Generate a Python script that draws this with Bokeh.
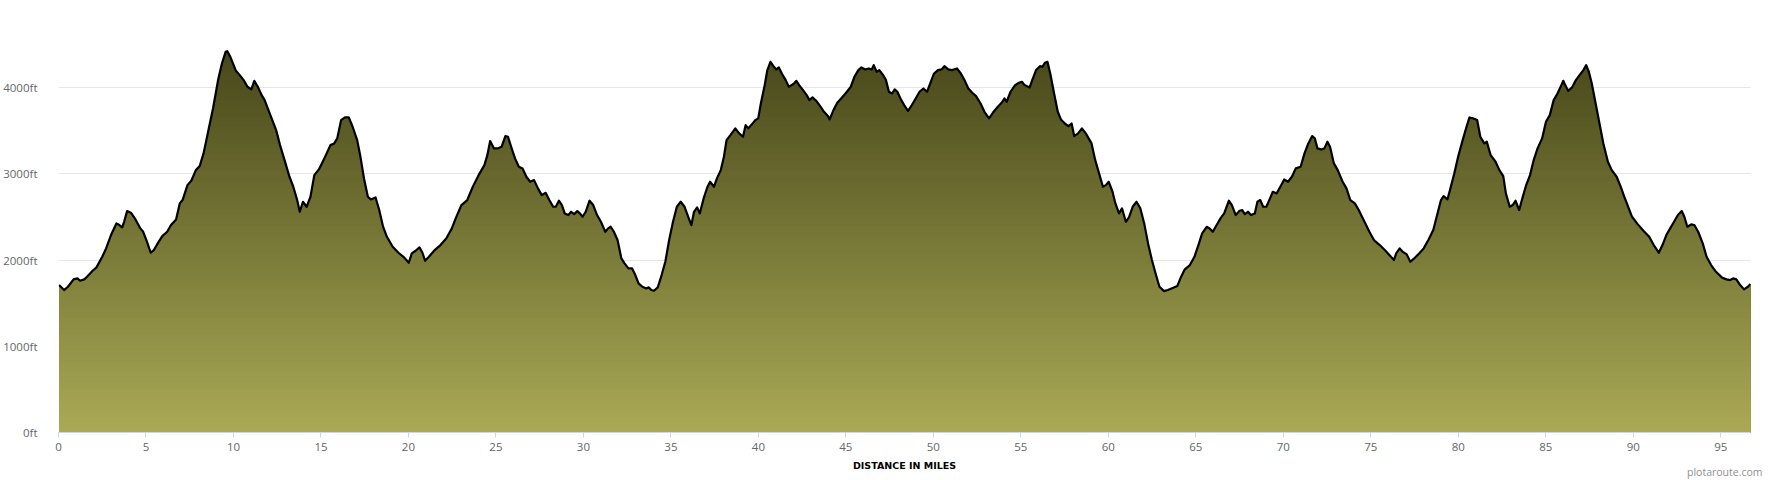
import numpy as np
from bokeh.plotting import figure
from bokeh.models import FixedTicker, PrintfTickFormatter, Label, Range1d
from bokeh.embed import file_html
from bokeh.resources import INLINE

# Distance (miles) and elevation (ft) read from the profile
miles = [0.03, 0.32, 0.54, 0.86, 1.08, 1.23, 1.47, 1.63, 1.95, 2.17, 2.50, 2.72, 3.00, 3.31, 3.48, 3.64,
         3.75, 3.92, 4.14, 4.40, 4.68, 4.84, 5.06, 5.27, 5.45, 5.67, 5.93, 6.21, 6.43, 6.72, 6.93, 7.09,
         7.37, 7.59, 7.85, 8.07, 8.29, 8.55, 8.83, 9.12, 9.34, 9.55, 9.64, 9.82, 9.97, 10.14, 10.36, 10.58,
         10.80, 11.02, 11.19, 11.39, 11.61, 11.78, 12.00, 12.22, 12.44, 12.66, 12.92, 13.20, 13.42, 13.64,
         13.79, 13.97, 14.18, 14.40, 14.62, 14.88, 15.10, 15.28, 15.54, 15.76, 15.93, 16.15, 16.37, 16.59,
         16.81, 17.07, 17.24, 17.46, 17.68, 17.85, 18.12, 18.33, 18.55, 18.77, 19.10, 19.43, 19.75, 20.02,
         20.19, 20.41, 20.63, 20.80, 20.95, 21.17, 21.50, 21.83, 22.16, 22.48, 22.70, 23.03, 23.36, 23.68,
         24.01, 24.34, 24.51, 24.67, 24.89, 25.10, 25.32, 25.54, 25.69, 25.87, 26.09, 26.31, 26.52, 26.74,
         26.96, 27.18, 27.40, 27.62, 27.84, 28.05, 28.27, 28.42, 28.60, 28.77, 28.93, 29.14, 29.30, 29.47,
         29.65, 29.80, 29.95, 30.13, 30.35, 30.56, 30.78, 31.00, 31.25, 31.41, 31.56, 31.74, 31.95, 32.17,
         32.35, 32.57, 32.78, 32.94, 33.15, 33.37, 33.59, 33.74, 33.88, 34.03, 34.25, 34.47, 34.68, 34.90,
         35.12, 35.34, 35.56, 35.78, 35.99, 36.17, 36.32, 36.50, 36.65, 36.87, 37.09, 37.24, 37.46, 37.63,
         37.85, 38.03, 38.18, 38.40, 38.68, 38.90, 39.12, 39.27, 39.42, 39.64, 39.82, 39.99, 40.14, 40.36,
         40.51, 40.69, 40.86, 41.02, 41.17, 41.34, 41.56, 41.74, 41.89, 42.04, 42.17, 42.33, 42.55, 42.76,
         42.92, 43.09, 43.31, 43.53, 43.75, 43.97, 44.07, 44.29, 44.51, 44.73, 45.06, 45.28, 45.49, 45.71,
         45.89, 46.11, 46.32, 46.48, 46.59, 46.76, 46.91, 47.13, 47.29, 47.46, 47.64, 47.79, 47.94, 48.12,
         48.33, 48.55, 48.77, 48.99, 49.21, 49.43, 49.64, 49.82, 50.04, 50.26, 50.47, 50.63, 50.85, 51.06,
         51.35, 51.57, 51.78, 52.00, 52.22, 52.44, 52.70, 52.92, 53.18, 53.40, 53.68, 53.90, 54.06, 54.19,
         54.41, 54.67, 54.89, 55.06, 55.21, 55.50, 55.65, 55.87, 56.09, 56.24, 56.37, 56.52, 56.68, 56.90,
         57.11, 57.29, 57.51, 57.72, 57.90, 58.05, 58.27, 58.49, 58.71, 59.04, 59.25, 59.47, 59.69, 59.86,
         60.02, 60.24, 60.39, 60.61, 60.78, 61.00, 61.18, 61.39, 61.61, 61.83, 62.05, 62.27, 62.49, 62.70,
         62.92, 63.18, 63.40, 63.61, 63.94, 64.16, 64.37, 64.66, 64.92, 65.18, 65.36, 65.62, 65.79, 65.97,
         66.19, 66.41, 66.62, 66.89, 67.06, 67.28, 67.50, 67.65, 67.80, 67.98, 68.15, 68.37, 68.52, 68.68,
         68.85, 69.03, 69.24, 69.40, 69.62, 69.83, 70.05, 70.27, 70.49, 70.71, 70.99, 71.21, 71.43, 71.65,
         71.80, 71.95, 72.17, 72.35, 72.52, 72.67, 72.89, 73.11, 73.39, 73.61, 73.83, 74.09, 74.31, 74.64,
         74.92, 75.18, 75.51, 75.80, 76.06, 76.32, 76.45, 76.65, 76.82, 77.04, 77.26, 77.48, 77.76, 78.02,
         78.29, 78.57, 78.79, 79.01, 79.16, 79.38, 79.55, 79.77, 79.99, 80.25, 80.47, 80.64, 80.86, 81.08,
         81.26, 81.48, 81.63, 81.85, 82.13, 82.35, 82.57, 82.72, 82.94, 83.11, 83.27, 83.48, 83.66, 83.88,
         84.10, 84.31, 84.53, 84.79, 85.01, 85.23, 85.45, 85.67, 85.89, 86.00, 86.11, 86.28, 86.50, 86.72,
         86.93, 87.15, 87.31, 87.46, 87.63, 87.85, 88.07, 88.29, 88.55, 88.77, 89.05, 89.27, 89.49, 89.71,
         89.93, 90.25, 90.58, 90.91, 91.17, 91.46, 91.67, 91.89, 92.11, 92.33, 92.55, 92.77, 92.92, 93.09,
         93.31, 93.49, 93.71, 93.97, 94.19, 94.45, 94.73, 95.06, 95.32, 95.54, 95.71, 95.89, 96.11, 96.33,
         96.55, 96.70]

elev_ft = [1710, 1652, 1690, 1776, 1787, 1760, 1776, 1807, 1876, 1915, 2038, 2135, 2290, 2425, 2406, 2379,
           2444, 2568, 2549, 2471, 2367, 2328, 2212, 2085, 2116, 2193, 2278, 2328, 2406, 2471, 2657, 2696,
           2869, 2920, 3043, 3090, 3237, 3488, 3758, 4087, 4280, 4415, 4423, 4357, 4280, 4195, 4145, 4087,
           4010, 3979, 4079, 4010, 3913, 3855, 3739, 3623, 3507, 3333, 3159, 2966, 2850, 2696,
           2560, 2676, 2618, 2734, 2985, 3051, 3140, 3217, 3333, 3353, 3411, 3623, 3654, 3654,
           3546, 3391, 3217, 2947, 2734, 2703, 2726, 2580, 2387, 2270, 2154, 2085, 2031, 1969,
           2077, 2108, 2147, 2085, 1992, 2038, 2116, 2174, 2251, 2367, 2483, 2638, 2696, 2850,
           2985, 3101, 3217, 3380, 3295, 3295, 3314, 3438, 3430, 3314, 3179, 3082, 3063, 2966,
           2908, 2927, 2831, 2753, 2780, 2696, 2618, 2618, 2688, 2638, 2541, 2522, 2560, 2533,
           2568, 2541, 2502, 2560, 2688, 2638, 2522, 2444, 2328, 2367, 2386, 2328, 2232, 2019,
           1961, 1903, 1903, 1838, 1729, 1690, 1671, 1683, 1652, 1644, 1683, 1826, 1980, 2232,
           2444, 2618, 2676, 2618, 2502, 2406, 2560, 2611, 2541, 2715, 2850, 2908, 2850, 2947,
           3043, 3198, 3391, 3449, 3527, 3469, 3430, 3565, 3527, 3577, 3623, 3643, 3816, 4029,
           4203, 4299, 4249, 4211, 4234, 4164, 4087, 4010, 4029, 4048, 4079, 4029, 3971, 3913,
           3855, 3886, 3847, 3785, 3720, 3670, 3631, 3739, 3824, 3874, 3952, 4010, 4126, 4203,
           4234, 4211, 4222, 4211, 4261, 4184, 4203, 4145, 4087, 3952, 3932, 3979, 3952, 3874,
           3797, 3731, 3797, 3874, 3952, 3990, 3952, 4048, 4164, 4203, 4211, 4249, 4211, 4203,
           4222, 4164, 4087, 3990, 3940, 3901, 3816, 3720, 3643, 3708, 3778, 3824, 3874, 3836,
           3952, 4029, 4056, 4068, 4029, 4002, 4087, 4203, 4249, 4242, 4288, 4299, 4164, 3932,
           3720, 3631, 3584, 3554, 3584, 3438, 3469, 3527, 3469, 3353, 3159, 3005, 2850, 2869,
           2908, 2792, 2665, 2541, 2599, 2444, 2494, 2618, 2676, 2599, 2425, 2193, 2000, 1845,
           1690, 1640, 1652, 1671, 1698, 1807, 1892, 1942, 2038, 2193, 2309, 2386, 2367, 2328,
           2406, 2483, 2541, 2688, 2638, 2522, 2572, 2580, 2533, 2560, 2522, 2541, 2676, 2696,
           2618, 2618, 2715, 2792, 2773, 2850, 2935, 2908, 2966, 3063, 3082, 3237, 3353, 3438,
           3411, 3295, 3283, 3295, 3372, 3314, 3121, 3043, 2908, 2831, 2696, 2657, 2580, 2444,
           2328, 2232, 2174, 2116, 2058, 2000, 2077, 2135, 2096, 2069, 1980, 2019, 2077, 2135,
           2232, 2348, 2522, 2696, 2742, 2703, 2831, 3005, 3198, 3391, 3546, 3654, 3643, 3623,
           3430, 3353, 3372, 3217, 3140, 3043, 2974, 2773, 2618, 2638, 2688, 2580, 2715, 2869,
           2985, 3159, 3295, 3411, 3604, 3681, 3855, 3932, 4029, 4079, 4029, 3963, 4002, 4087,
           4145, 4203, 4261, 4184, 4048, 3816, 3584, 3353, 3140, 3043, 2966, 2858, 2734, 2618,
           2502, 2417, 2340, 2270, 2174, 2085, 2174, 2290, 2367, 2444, 2522, 2568, 2502, 2386,
           2413, 2406, 2328, 2193, 2038, 1942, 1864, 1799, 1776, 1768, 1787, 1776, 1710, 1660,
           1690, 1722]

x_ticks = list(range(0, 100, 5))
y_ticks = [0, 1000, 2000, 3000, 4000]

x = np.array(miles, dtype=float)
y = np.array(elev_ft, dtype=float)

p = figure(width=1770, height=480, output_backend="svg", toolbar_location=None,
           x_range=Range1d(0, 96.7), y_range=Range1d(0, 4500),
           min_border_left=56, min_border_right=20, min_border_top=44, min_border_bottom=48)
p.outline_line_color = None
p.background_fill_color = "white"
p.border_fill_color = "white"

# vertical gradient fill: stacked areas from darkest (top) to lightest (bottom)
top_c = np.array([72, 72, 27])
bot_c = np.array([170, 170, 86])
ymax = float(y.max())
n = 70
levels = np.linspace(ymax, 0, n + 1)[:-1]
for lv in levels:
    t = lv / ymax
    c = bot_c + (top_c - bot_c) * t
    col = "#%02x%02x%02x" % tuple(int(round(v)) for v in c)
    p.varea(x=x, y1=np.zeros_like(y), y2=np.minimum(y, lv), fill_color=col, fill_alpha=1.0)

p.line(x, y, line_color="black", line_width=2.2, line_join="round")

# axes
p.xaxis.ticker = FixedTicker(ticks=x_ticks)
p.yaxis.ticker = FixedTicker(ticks=y_ticks)
p.yaxis.formatter = PrintfTickFormatter(format="%dft")
p.xgrid.visible = False
p.ygrid.grid_line_color = "#e6e6e6"
p.ygrid.grid_line_width = 1

p.yaxis.axis_line_color = None
p.yaxis.major_tick_line_color = None
p.yaxis.minor_tick_line_color = None
p.yaxis.major_label_standoff = 15
p.yaxis.major_label_text_font = "Open Sans"
p.yaxis.major_label_text_font_size = "11.5px"
p.yaxis.major_label_text_color = "#666666"

p.xaxis.axis_line_color = "#ccd6eb"
p.xaxis.major_tick_line_color = "#ccd6eb"
p.xaxis.major_tick_out = 5
p.xaxis.major_tick_in = 0
p.xaxis.minor_tick_line_color = None
p.xaxis.major_label_standoff = 5
p.xaxis.major_label_text_font = "Open Sans"
p.xaxis.major_label_text_font_size = "11.5px"
p.xaxis.major_label_text_color = "#666666"
p.xaxis.axis_label = "DISTANCE IN MILES"
p.xaxis.axis_label_text_font = "DejaVu Sans"
p.xaxis.axis_label_text_font_style = "bold"
p.xaxis.axis_label_text_font_size = "9.5px"
p.xaxis.axis_label_text_color = "black"
p.xaxis.axis_label_standoff = 6

# credit text, placed in the (otherwise empty) top border panel and offset down to the bottom row
credit = Label(x=1704, y=-427, x_units="screen", y_units="screen", text="plotaroute.com",
               text_align="right", text_baseline="middle", text_font="Open Sans",
               text_font_size="10.5px", text_color="#909090")
p.add_layout(credit, "above")

open("out.html", "w").write(file_html(p, INLINE))
